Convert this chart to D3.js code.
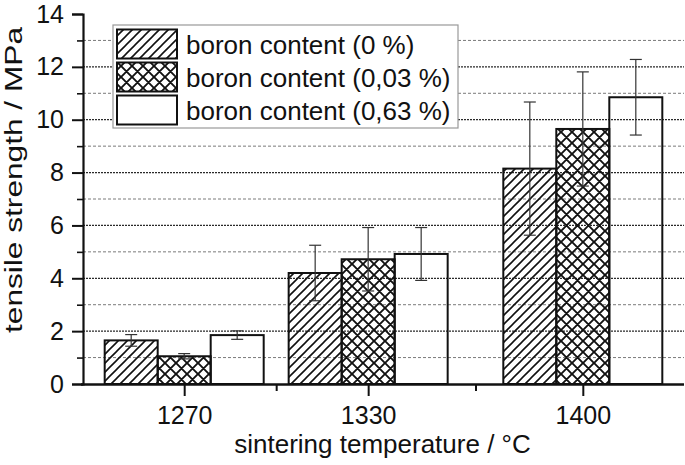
<!DOCTYPE html>
<html><head><meta charset="utf-8">
<script src="https://cdn.jsdelivr.net/npm/d3@7"></script>
<style>
html,body{margin:0;padding:0;background:#fff;}
svg{display:block;}
text{font-family:"Liberation Sans",Arial,Helvetica,sans-serif;fill:#111;}
</style></head>
<body>
<script>
// ---- data ----
const categories = [1270, 1330, 1400];
const seriesNames = ["boron content (0 %)", "boron content (0,03 %)", "boron content (0,63 %)"];
const values0 = [1.65, 4.2, 8.15];
const errors0 = [0.22, 1.05, 2.52];
const values1 = [1.05, 4.72, 9.65];
const errors1 = [0.1, 1.2, 2.16];
const values2 = [1.85, 4.92, 10.85];
const errors2 = [0.16, 1.0, 1.43];
const yMajorTicks = [0, 2, 4, 6, 8, 10, 12, 14];
const yMinorTicks = [1, 3, 5, 7, 9, 11, 13];
const xMinorTicks = [1300, 1365];
const xTitle = "sintering temperature / °C";
const yTitle = "tensile strength / MPa";

const seriesValues = [values0, values1, values2];
const seriesErrors = [errors0, errors1, errors2];
const fills = ["url(#hatch)", "url(#cross)", "none"];

const W = 685, H = 465;
const svg = d3.select("body").append("svg").attr("width", W).attr("height", H);

const defs = svg.append("defs");
const ph = defs.append("pattern").attr("id", "hatch").attr("patternUnits", "userSpaceOnUse")
  .attr("width", 9).attr("height", 9);
ph.append("path").attr("d", "M-2.25,2.25 l4.5,-4.5 M0,9 l9,-9 M6.75,11.25 l4.5,-4.5")
  .attr("stroke", "#111").attr("stroke-width", 1.6).attr("fill", "none");
const pc = defs.append("pattern").attr("id", "cross").attr("patternUnits", "userSpaceOnUse")
  .attr("width", 11).attr("height", 11);
pc.append("path").attr("d", "M-2.75,2.75 l5.5,-5.5 M0,11 l11,-11 M8.25,13.75 l5.5,-5.5 M-2.75,8.25 l5.5,5.5 M0,0 l11,11 M8.25,-2.75 l5.5,5.5")
  .attr("stroke", "#111").attr("stroke-width", 1.9).attr("fill", "none");

const x = d3.scaleLinear().domain([1237, 1433]).range([83, 684]);
const y = d3.scaleLinear().domain([0, 14]).range([384, 14]);
const inner = d3.scaleBand().domain([0, 1, 2]).range([-79.5, 79.5]).padding(0);

// grid
const grid = svg.append("g");
grid.selectAll(".minor").data(yMinorTicks).join("line")
  .attr("x1", x.range()[0]).attr("x2", x.range()[1])
  .attr("y1", d => y(d)).attr("y2", d => y(d))
  .attr("stroke", "#7a7a7a").attr("stroke-width", 1).attr("stroke-dasharray", "3,2");
grid.selectAll(".major").data(yMajorTicks.filter(d => d > 0 && d < 14)).join("line")
  .attr("x1", x.range()[0]).attr("x2", x.range()[1])
  .attr("y1", d => y(d)).attr("y2", d => y(d))
  .attr("stroke", "#2a2a2a").attr("stroke-width", 1.3).attr("stroke-dasharray", "2,1");

// bars
seriesValues.forEach((vals, s) => {
  const g = svg.append("g");
  g.selectAll("rect").data(categories).join("rect")
    .attr("x", (c) => x(c) + inner(s))
    .attr("width", inner.bandwidth())
    .attr("y", (c, i) => y(vals[i]))
    .attr("height", (c, i) => y(0) - y(vals[i]))
    .attr("fill", fills[s])
    .attr("stroke", "#111").attr("stroke-width", 2);
});

// error bars
seriesValues.forEach((vals, s) => {
  const errs = seriesErrors[s];
  const g = svg.append("g").attr("stroke", "#333").attr("stroke-width", 1.2);
  categories.forEach((c, i) => {
    const cx = x(c) + inner(s) + inner.bandwidth() / 2;
    const hi = y(vals[i] + errs[i]), lo = y(vals[i] - errs[i]);
    const cap = 6;
    g.append("line").attr("x1", cx).attr("x2", cx).attr("y1", hi).attr("y2", lo);
    g.append("line").attr("x1", cx - cap).attr("x2", cx + cap).attr("y1", hi).attr("y2", hi);
    g.append("line").attr("x1", cx - cap).attr("x2", cx + cap).attr("y1", lo).attr("y2", lo);
  });
});

// axes
const yAxis = d3.axisLeft(y).tickValues(yMajorTicks).tickSize(11).tickPadding(6).tickFormat(d3.format("d"));
const gy = svg.append("g").attr("transform", `translate(${x.range()[0]},0)`).call(yAxis);
gy.select(".domain").attr("stroke", "#111").attr("stroke-width", 2.2);
gy.selectAll(".tick line").attr("stroke", "#111").attr("stroke-width", 2);
gy.selectAll(".tick text").attr("font-size", 25).attr("fill", "#111").attr("x", -19);
const gyMinor = svg.append("g").attr("transform", `translate(${x.range()[0]},0)`)
  .call(d3.axisLeft(y).tickValues(yMinorTicks).tickSize(6).tickFormat(""));
gyMinor.select(".domain").remove();
gyMinor.selectAll(".tick line").attr("stroke", "#111").attr("stroke-width", 1.6);

const xAxis = d3.axisBottom(x).tickValues(categories).tickSize(12).tickPadding(10).tickFormat(d3.format("d"));
const gx = svg.append("g").attr("transform", `translate(0,${y(0)})`).call(xAxis);
gx.select(".domain").attr("stroke", "#111").attr("stroke-width", 2.6).attr("d", `M${x.range()[0] - 2},0.5H${x.range()[1]}`);
gx.selectAll(".tick line").attr("stroke", "#111").attr("stroke-width", 2);
gx.selectAll(".tick text").attr("font-size", 25).attr("fill", "#111");
const gxMinor = svg.append("g").attr("transform", `translate(0,${y(0)})`)
  .call(d3.axisBottom(x).tickValues(xMinorTicks).tickSize(7).tickFormat(""));
gxMinor.select(".domain").remove();
gxMinor.selectAll(".tick line").attr("stroke", "#111").attr("stroke-width", 2);

// titles
svg.append("text").attr("x", (x.range()[0] + x.range()[1]) / 2 - 1).attr("y", 453)
  .attr("text-anchor", "middle").attr("font-size", 26).text(xTitle);
svg.append("text").attr("transform", "translate(22,180) rotate(-90)")
  .attr("text-anchor", "middle").attr("font-size", 23)
  .attr("textLength", 306).attr("lengthAdjust", "spacingAndGlyphs").text(yTitle);

// legend
const lg = svg.append("g");
lg.append("rect").attr("x", 113).attr("y", 25).attr("width", 345).attr("height", 103)
  .attr("fill", "#fff").attr("stroke", "#999").attr("stroke-width", 1.2);
seriesNames.forEach((name, s) => {
  const yy = 29.5 + s * 33;
  lg.append("rect").attr("x", 117).attr("y", yy).attr("width", 60).attr("height", 29)
    .attr("fill", s === 2 ? "#fff" : fills[s]).attr("stroke", "#111").attr("stroke-width", 2);
  lg.append("text").attr("x", 186).attr("y", yy + 24).attr("font-size", 26).text(name);
});
</script>
</body></html>
